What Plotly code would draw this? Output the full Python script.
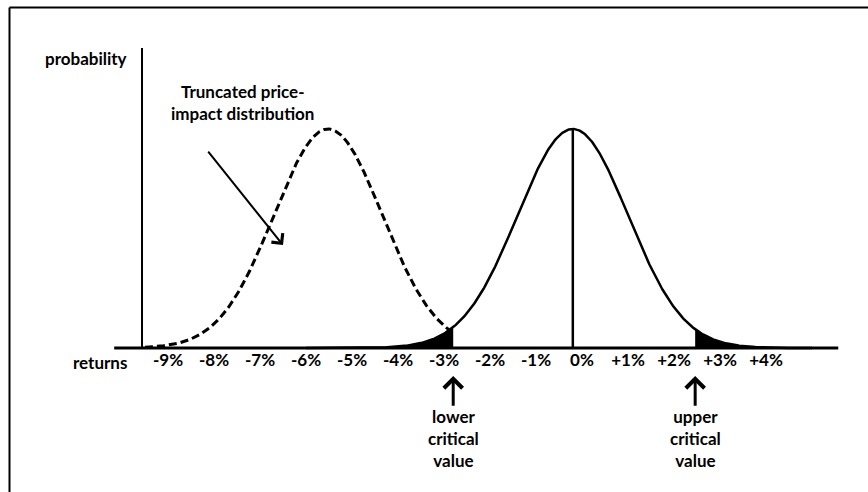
import numpy as np
import plotly.graph_objects as go

# ---- data (x in % returns, y in relative probability) ----
tick_values = [-9, -8, -7, -6, -5, -4, -3, -2, -1, 0, 1, 2, 3, 4]
tick_labels = ["-9%", "-8%", "-7%", "-6%", "-5%", "-4%", "-3%", "-2%", "-1%",
               "0%", "+1%", "+2%", "+3%", "+4%"]

# no-impact return distribution (solid)
normal_mean = -0.2
normal_sd = 1.2
normal_peak = 1.0
lower_critical = -2.8
upper_critical = 2.46
normal_span = [-6.0, 5.0]

# truncated price-impact distribution (dashed)
impact_mean = -5.52
impact_sd = 1.18
impact_peak = 1.0
impact_span = [-9.5, -2.87]

# axes extents
x_axis_span = [-10.17, 5.57]
y_axis_x = -9.565
y_axis_top = 1.37

FONT = "Lato"
BLACK = "#000000"


def bell(xs, mean, sd, peak):
    return peak * np.exp(-0.5 * ((xs - mean) / sd) ** 2)


fig = go.Figure()

# shaded rejection tails
xl = np.linspace(normal_span[0], lower_critical, 200)
fig.add_trace(go.Scatter(x=xl, y=bell(xl, normal_mean, normal_sd, normal_peak),
                         mode="lines", line=dict(width=0, color=BLACK),
                         fill="tozeroy", fillcolor=BLACK, hoverinfo="skip"))
xu = np.linspace(upper_critical, normal_span[1], 200)
fig.add_trace(go.Scatter(x=xu, y=bell(xu, normal_mean, normal_sd, normal_peak),
                         mode="lines", line=dict(width=0, color=BLACK),
                         fill="tozeroy", fillcolor=BLACK, hoverinfo="skip"))

# solid distribution
xs = np.linspace(normal_span[0], normal_span[1], 600)
fig.add_trace(go.Scatter(x=xs, y=bell(xs, normal_mean, normal_sd, normal_peak),
                         mode="lines", line=dict(color=BLACK, width=2.5)))

# dashed truncated distribution
xd = np.linspace(impact_span[0], impact_span[1], 400)
fig.add_trace(go.Scatter(x=xd, y=bell(xd, impact_mean, impact_sd, impact_peak),
                         mode="lines", line=dict(color=BLACK, width=3, dash="8px,4px")))

# vertical line at the mean
fig.add_trace(go.Scatter(x=[normal_mean, normal_mean], y=[0, normal_peak],
                         mode="lines", line=dict(color=BLACK, width=2.5)))

# axes lines
fig.add_trace(go.Scatter(x=x_axis_span, y=[0, 0], mode="lines",
                         line=dict(color=BLACK, width=3)))
fig.add_trace(go.Scatter(x=[y_axis_x, y_axis_x], y=[0, y_axis_top], mode="lines",
                         line=dict(color=BLACK, width=2)))

tf = dict(family=FONT, size=17, color=BLACK, weight="bold")

ann = [
    dict(x=-10.79, y=1.32, text="probability", showarrow=False, font=tf),
    dict(x=-10.48, y=-0.064, text="returns", showarrow=False, font=tf),
    dict(x=-7.39, y=1.119, text="Truncated price-<br>impact distribution",
         showarrow=False, font=tf),
    dict(x=lower_critical, y=-0.411, text="lower<br>critical<br>value",
         showarrow=False, font=tf),
    dict(x=upper_critical, y=-0.411, text="upper<br>critical<br>value",
         showarrow=False, font=tf),
    # arrows
    dict(x=-6.5, y=0.47, ax=-8.152, ay=0.904, axref="x", ayref="y", text="",
         showarrow=True, arrowhead=4, arrowsize=1.4, arrowwidth=2, arrowcolor=BLACK),
    dict(x=lower_critical, y=-0.128, ax=lower_critical, ay=-0.27, axref="x", ayref="y",
         text="", showarrow=True, arrowhead=4, arrowsize=1.2, arrowwidth=3, arrowcolor=BLACK),
    dict(x=upper_critical, y=-0.128, ax=upper_critical, ay=-0.27, axref="x", ayref="y",
         text="", showarrow=True, arrowhead=4, arrowsize=1.2, arrowwidth=3, arrowcolor=BLACK),
]

fig.update_layout(
    width=868, height=492,
    margin=dict(l=0, r=0, t=0, b=0),
    paper_bgcolor="white", plot_bgcolor="white",
    showlegend=False,
    annotations=ann,
    xaxis=dict(range=[-12.652, 6.217], showgrid=False, zeroline=False, showline=False,
               tickmode="array", tickvals=tick_values, ticktext=tick_labels,
               ticks="", tickfont=tf, anchor="free", position=(492 - 348) / 492,
               fixedrange=True),
    yaxis=dict(range=[-0.6575, 1.589], visible=False, fixedrange=True),
    shapes=[
        dict(type="line", xref="paper", yref="paper", x0=9.5 / 868, x1=9.5 / 868,
             y0=0, y1=1 - 7.5 / 492, line=dict(color=BLACK, width=2)),
        dict(type="line", xref="paper", yref="paper", x0=9.5 / 868, x1=1,
             y0=1 - 7.5 / 492, y1=1 - 7.5 / 492, line=dict(color=BLACK, width=2)),
    ],
)

fig.write_html("out.html", config={"displayModeBar": False},
               post_script="document.body.style.margin='0';")
